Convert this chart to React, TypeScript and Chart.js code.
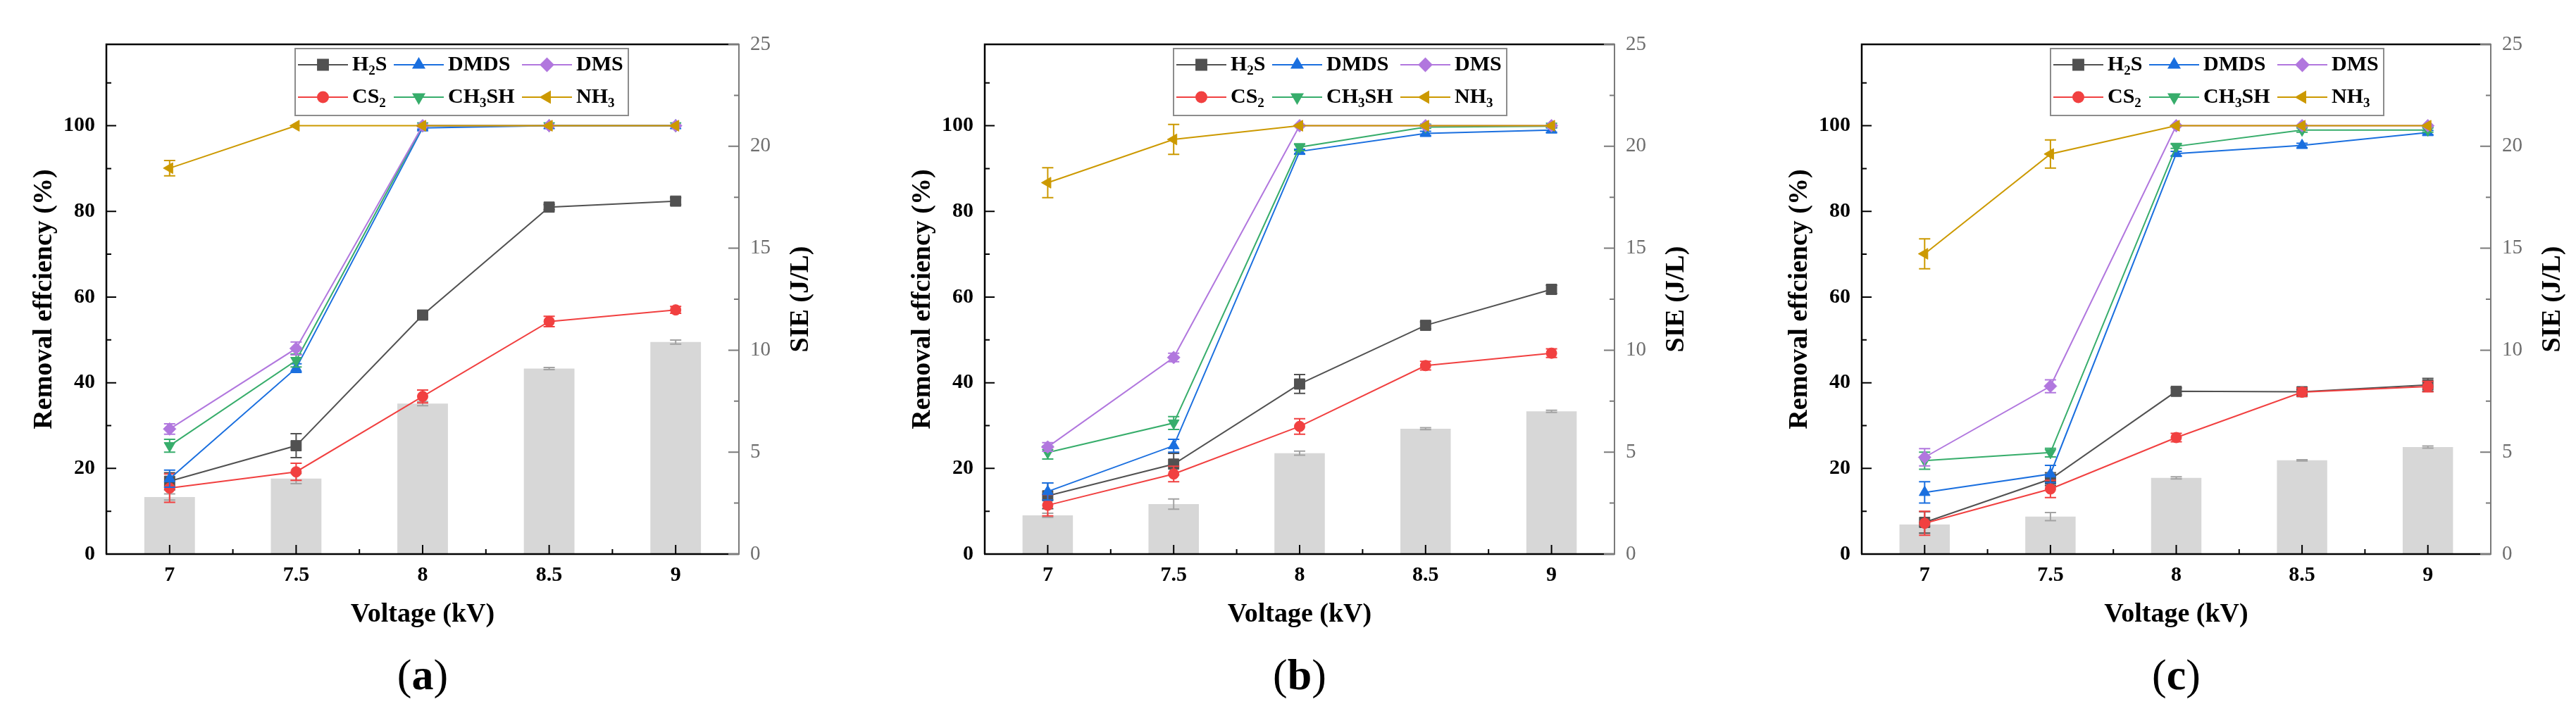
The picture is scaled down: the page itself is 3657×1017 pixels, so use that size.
import React, { useEffect, useRef } from "react";
import { Chart, registerables } from "chart.js";
import { drawPoint } from "chart.js/helpers";

Chart.register(...registerables);

// x categories (kV)
const VOLTAGES = ["7", "7.5", "8", "8.5", "9"];

// axis ticks
const EFF_TICKS = [0, 20, 40, 60, 80, 100];
const EFF_MAX = 119;
const SIE_TICKS = [0, 5, 10, 15, 20, 25];
const SIE_MAX = 25;

const SERIES = ["H₂S", "CS₂", "DMDS", "CH₃SH", "DMS", "NH₃"];

// (a)
const A_H2S = [17.0, 25.3, 55.8, 81.0, 82.4];
const A_CS2 = [15.4, 19.2, 36.8, 54.3, 57.0];
const A_DMDS = [17.6, 43.4, 99.5, 100, 100];
const A_CH3SH = [25.3, 45.2, 100, 100, 100];
const A_DMS = [29.2, 48.0, 100, 100, 100];
const A_NH3 = [90.1, 100, 100, 100, 100];
const A_SIE = [2.8, 3.7, 7.38, 9.1, 10.4];
const A_H2S_ERR = [2.0, 2.8, 0.8, 0.6, 0.8];
const A_CS2_ERR = [3.3, 2.0, 1.5, 1.2, 0.8];
const A_DMDS_ERR = [2.0, 1.0, 0.3, 0, 0];
const A_CH3SH_ERR = [1.5, 1.5, 0, 0, 0];
const A_DMS_ERR = [1.2, 1.5, 0, 0, 0];
const A_NH3_ERR = [1.8, 0, 0, 0, 0];
const A_SIE_ERR = [0.15, 0.25, 0.1, 0.05, 0.1];

// (b)
const B_H2S = [13.6, 21.0, 39.7, 53.4, 61.8];
const B_CS2 = [11.4, 18.7, 29.8, 44.0, 46.9];
const B_DMDS = [14.6, 25.3, 94.0, 98.2, 99.0];
const B_CH3SH = [23.7, 30.6, 95.0, 99.7, 99.9];
const B_DMS = [25.0, 45.9, 100, 100, 100];
const B_NH3 = [86.7, 96.8, 100, 100, 100];
const B_SIE = [1.9, 2.45, 4.95, 6.15, 7.0];
const B_H2S_ERR = [3.0, 2.5, 2.2, 0.8, 1.0];
const B_CS2_ERR = [2.5, 1.8, 1.8, 1.0, 1.0];
const B_DMDS_ERR = [2.0, 1.5, 0.5, 0.5, 0.5];
const B_CH3SH_ERR = [1.5, 1.5, 0.8, 0.3, 0.3];
const B_DMS_ERR = [1.0, 1.0, 0, 0, 0];
const B_NH3_ERR = [3.5, 3.5, 0, 0, 0];
const B_SIE_ERR = [0.1, 0.25, 0.1, 0.05, 0.05];

// (c)
const C_H2S = [7.4, 17.5, 38.0, 37.9, 39.5];
const C_CS2 = [7.2, 15.2, 27.2, 37.8, 39.1];
const C_DMDS = [14.4, 18.7, 93.5, 95.4, 98.4];
const C_CH3SH = [21.8, 23.7, 95.2, 99.0, 99.0];
const C_DMS = [22.6, 39.2, 100, 100, 100];
const C_NH3 = [70.1, 93.4, 100, 100, 100];
const C_SIE = [1.45, 1.84, 3.74, 4.6, 5.25];
const C_H2S_ERR = [2.5, 1.5, 0.8, 0.5, 1.5];
const C_CS2_ERR = [2.8, 2.0, 1.0, 1.0, 1.2];
const C_DMDS_ERR = [2.5, 2.0, 0.5, 0.5, 0.5];
const C_CH3SH_ERR = [2.0, 1.0, 0.5, 0.5, 0.5];
const C_DMS_ERR = [2.0, 1.5, 0, 0, 0];
const C_NH3_ERR = [3.5, 3.3, 0, 0, 0];
const C_SIE_ERR = [0.1, 0.2, 0.05, 0.03, 0.05];

// styles
const COLORS = ["#515151", "#F14040", "#1A6FDF", "#37AD6B", "#B177DE", "#CC9900"];
const MARKERS = ["rect", "circle", "triangle", "triangle", "rectRot", "triangle"];
const ROTATIONS = [0, 0, 0, 180, 0, -90];
const RADII = [10.5, 7.5, 9, 9, 9, 9];
const FONT = "'Liberation Serif', 'Times New Roman', serif";

const PAGE_W = 3657;
const PAGE_H = 1017;
const CANVAS_W = 1246;
const PLOT_LEFT = 151; // chart area left inside each canvas
const PLOT_TOP = 63;
const PLOT_BOTTOM = 787;

const PANELS = [
  {
    tag: "a",
    lines: [A_H2S, A_CS2, A_DMDS, A_CH3SH, A_DMS, A_NH3],
    errs: [A_H2S_ERR, A_CS2_ERR, A_DMDS_ERR, A_CH3SH_ERR, A_DMS_ERR, A_NH3_ERR],
    sie: A_SIE,
    sieErr: A_SIE_ERR,
    left: 151,
    right: 1049,
  },
  {
    tag: "b",
    lines: [B_H2S, B_CS2, B_DMDS, B_CH3SH, B_DMS, B_NH3],
    errs: [B_H2S_ERR, B_CS2_ERR, B_DMDS_ERR, B_CH3SH_ERR, B_DMS_ERR, B_NH3_ERR],
    sie: B_SIE,
    sieErr: B_SIE_ERR,
    left: 1398,
    right: 2292,
  },
  {
    tag: "c",
    lines: [C_H2S, C_CS2, C_DMDS, C_CH3SH, C_DMS, C_NH3],
    errs: [C_H2S_ERR, C_CS2_ERR, C_DMDS_ERR, C_CH3SH_ERR, C_DMS_ERR, C_NH3_ERR],
    sie: C_SIE,
    sieErr: C_SIE_ERR,
    left: 2643,
    right: 3536,
  },
];

const SUB: Record<string, string> = { "₂": "2", "₃": "3" };

function drawRich(ctx: CanvasRenderingContext2D, text: string, x: number, y: number) {
  let cx = x;
  for (const ch of text) {
    if (SUB[ch]) {
      ctx.font = `bold 19px ${FONT}`;
      ctx.fillText(SUB[ch], cx, y + 9);
      cx += ctx.measureText(SUB[ch]).width;
    } else {
      ctx.font = `bold 30px ${FONT}`;
      ctx.fillText(ch, cx, y);
      cx += ctx.measureText(ch).width;
    }
  }
}

function drawErrors(chart: any, index: number, kind: string) {
  const ds = chart.data.datasets[index];
  if (!ds.errors || (ds.type || "bar") !== kind) return;
  const meta = chart.getDatasetMeta(index);
  const scale = chart.scales[meta.yAxisID];
  const ctx = chart.ctx;
  ctx.save();
  ctx.strokeStyle = ds.errorColor || ds.borderColor;
  ctx.lineWidth = 2;
  meta.data.forEach((el: any, i: number) => {
    const e = ds.errors[i];
    if (!e) return;
    const v = ds.data[i];
    const yt = scale.getPixelForValue(v + e);
    const yb = scale.getPixelForValue(v - e);
    ctx.beginPath();
    ctx.moveTo(el.x, yt);
    ctx.lineTo(el.x, yb);
    ctx.moveTo(el.x - 8, yt);
    ctx.lineTo(el.x + 8, yt);
    ctx.moveTo(el.x - 8, yb);
    ctx.lineTo(el.x + 8, yb);
    ctx.stroke();
  });
  ctx.restore();
}

const decorPlugin = {
  id: "decor",
  beforeDatasetDraw(chart: any, args: any) {
    drawErrors(chart, args.index, "line");
  },
  afterDatasetDraw(chart: any, args: any) {
    drawErrors(chart, args.index, "bar");
  },
  afterDraw(chart: any) {
    const { ctx, chartArea } = chart;
    const { left, right, top, bottom } = chartArea;
    const sx = chart.scales.x;
    const sy = chart.scales.y;
    const sy1 = chart.scales.y1;
    ctx.save();

    // frame
    ctx.strokeStyle = "#000";
    ctx.lineWidth = 2.5;
    ctx.beginPath();
    ctx.moveTo(left, bottom);
    ctx.lineTo(left, top);
    ctx.lineTo(right, top);
    ctx.moveTo(left - 1, bottom);
    ctx.lineTo(right, bottom);
    ctx.stroke();
    ctx.strokeStyle = "#7a7a7a";
    ctx.lineWidth = 2;
    ctx.beginPath();
    ctx.moveTo(right, top - 1);
    ctx.lineTo(right, bottom + 1);
    ctx.stroke();

    // inward ticks
    ctx.lineWidth = 2;
    ctx.strokeStyle = "#000";
    ctx.beginPath();
    EFF_TICKS.forEach((v) => {
      const py = sy.getPixelForValue(v);
      ctx.moveTo(left, py);
      ctx.lineTo(left + 14, py);
      const mv = v + (EFF_TICKS[1] - EFF_TICKS[0]) / 2;
      if (mv < EFF_MAX) {
        const pm = sy.getPixelForValue(mv);
        ctx.moveTo(left, pm);
        ctx.lineTo(left + 7, pm);
      }
    });
    VOLTAGES.forEach((_, i) => {
      const px = sx.getPixelForValue(i);
      ctx.moveTo(px, bottom);
      ctx.lineTo(px, bottom - 13);
      if (i < VOLTAGES.length - 1) {
        const pm = (px + sx.getPixelForValue(i + 1)) / 2;
        ctx.moveTo(pm, bottom);
        ctx.lineTo(pm, bottom - 7);
      }
    });
    ctx.stroke();

    ctx.strokeStyle = "#7a7a7a";
    ctx.beginPath();
    SIE_TICKS.forEach((v, i) => {
      const py = sy1.getPixelForValue(v);
      ctx.moveTo(right, py);
      ctx.lineTo(right - 15, py);
      if (i < SIE_TICKS.length - 1) {
        const pm = sy1.getPixelForValue((v + SIE_TICKS[i + 1]) / 2);
        ctx.moveTo(right, pm);
        ctx.lineTo(right - 7, pm);
      }
    });
    ctx.stroke();

    // right axis title, reading upwards
    ctx.fillStyle = "#000";
    ctx.font = `bold 38px ${FONT}`;
    ctx.textAlign = "center";
    ctx.textBaseline = "middle";
    ctx.translate(right + 88, (top + bottom) / 2);
    ctx.rotate(-Math.PI / 2);
    ctx.fillText("SIE (J/L)", 0, 0);
    ctx.setTransform(1, 0, 0, 1, 0, 0);

    // legend
    const bx = left + 268;
    const by = top + 6;
    ctx.fillStyle = "#fff";
    ctx.fillRect(bx, by, 473, 95);
    ctx.strokeStyle = "#8c8c8c";
    ctx.lineWidth = 2;
    ctx.strokeRect(bx, by, 473, 95);
    const colX = [4, 140, 322];
    const rowY = [23, 69];
    ctx.textAlign = "left";
    ctx.textBaseline = "middle";
    chart.data.datasets.forEach((ds: any, k: number) => {
      if (ds.type !== "line") return;
      const lx = bx + colX[Math.floor(k / 2)];
      const ly = by + rowY[k % 2];
      ctx.strokeStyle = ds.borderColor;
      ctx.fillStyle = ds.borderColor;
      ctx.lineWidth = 2;
      ctx.beginPath();
      ctx.moveTo(lx, ly);
      ctx.lineTo(lx + 71, ly);
      ctx.stroke();
      drawPoint(
        ctx,
        { pointStyle: ds.pointStyle, rotation: ds.pointRotation, radius: ds.pointRadius, borderWidth: 1 } as any,
        lx + 35.5,
        ly
      );
      ctx.fillStyle = "#000";
      drawRich(ctx, ds.label, lx + 77, ly);
    });
    ctx.restore();
  },
};

type PanelSpec = (typeof PANELS)[number];

function Panel({ p }: { p: PanelSpec }) {
  const ref = useRef<HTMLCanvasElement>(null);
  const offset = p.left - PLOT_LEFT;
  const width = Math.min(CANVAS_W, PAGE_W - offset);

  useEffect(() => {
    if (!ref.current) return;
    const ctx = ref.current.getContext("2d");
    if (!ctx) return;
    const rightW = width - (p.right - offset);

    const chart = new Chart(ctx, {
      type: "bar",
      data: {
        labels: VOLTAGES,
        datasets: [
          ...p.lines.map((vals, k) => ({
            type: "line" as const,
            label: SERIES[k],
            data: vals,
            errors: p.errs[k],
            yAxisID: "y",
            borderColor: COLORS[k],
            backgroundColor: COLORS[k],
            pointBackgroundColor: COLORS[k],
            pointBorderColor: COLORS[k],
            pointStyle: MARKERS[k],
            pointRotation: ROTATIONS[k],
            pointRadius: RADII[k],
            pointBorderWidth: 1,
            borderWidth: 2,
            tension: 0,
            order: 6 - k,
          })),
          {
            type: "bar" as const,
            label: "SIE",
            data: p.sie,
            errors: p.sieErr,
            errorColor: "#a3a3a3",
            yAxisID: "y1",
            backgroundColor: "#D7D7D7",
            barPercentage: 0.4,
            categoryPercentage: 1,
            order: 10,
          },
        ] as any,
      },
      options: {
        animation: false,
        responsive: false,
        devicePixelRatio: 1,
        layout: { padding: { top: PLOT_TOP, left: 0, right: 0, bottom: 0 } },
        plugins: { legend: { display: false }, tooltip: { enabled: false } },
        scales: {
          x: {
            type: "category",
            offset: true,
            grid: { display: false, drawTicks: false },
            border: { display: false },
            ticks: {
              padding: 12,
              color: "#000",
              maxRotation: 0,
              font: { family: FONT, size: 30, weight: "bold" },
            },
            title: {
              display: true,
              text: "Voltage (kV)",
              color: "#000",
              font: { family: FONT, size: 38, weight: "bold" },
              padding: { top: 0, bottom: 121 },
            },
            afterFit: (s: any) => {
              s.height = PAGE_H - PLOT_BOTTOM;
            },
          },
          y: {
            type: "linear",
            position: "left",
            min: 0,
            max: EFF_MAX,
            afterBuildTicks: (s: any) => {
              s.ticks = EFF_TICKS.map((v) => ({ value: v }));
            },
            grid: { display: false, drawTicks: false },
            border: { display: false },
            ticks: {
              padding: 16,
              color: "#000",
              font: { family: FONT, size: 30, weight: "bold" },
            },
            title: {
              display: true,
              text: "Removal effciency (%)",
              color: "#000",
              font: { family: FONT, size: 38, weight: "bold" },
              padding: { top: 40, bottom: 0 },
            },
            afterFit: (s: any) => {
              s.width = PLOT_LEFT;
            },
          },
          y1: {
            type: "linear",
            position: "right",
            min: 0,
            max: SIE_MAX,
            afterBuildTicks: (s: any) => {
              s.ticks = SIE_TICKS.map((v) => ({ value: v }));
            },
            grid: { display: false, drawTicks: false },
            border: { display: false },
            ticks: {
              padding: 16,
              color: "#6e6e6e",
              font: { family: FONT, size: 29 },
            },
            afterFit: (s: any) => {
              s.width = rightW;
            },
          },
        },
      } as any,
      plugins: [decorPlugin],
    });

    return () => {
      chart.destroy();
    };
  }, []);

  const cx = (p.left + p.right) / 2;
  return (
    <>
      <canvas
        ref={ref}
        width={width}
        height={PAGE_H}
        style={{ position: "absolute", left: offset, top: 0, width, height: PAGE_H }}
      />
      <div
        style={{
          position: "absolute",
          left: cx - 100,
          top: 924,
          width: 200,
          textAlign: "center",
          fontFamily: FONT,
          fontSize: 62,
          lineHeight: "68px",
          color: "#000",
        }}
      >
        (<b>{p.tag}</b>)
      </div>
    </>
  );
}

export default function App() {
  return (
    <div
      style={{
        position: "absolute",
        left: 0,
        top: 0,
        width: PAGE_W,
        height: PAGE_H,
        overflow: "hidden",
        background: "#fff",
      }}
    >
      {PANELS.map((p) => (
        <Panel key={p.tag} p={p} />
      ))}
    </div>
  );
}
